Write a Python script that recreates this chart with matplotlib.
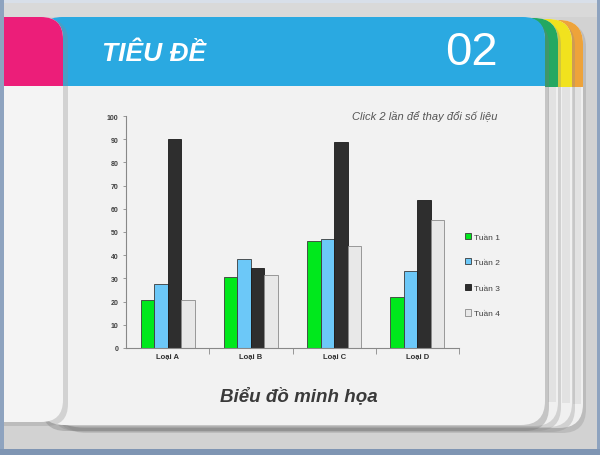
import numpy as np
import matplotlib
matplotlib.use('Agg')
from matplotlib import pyplot as plt
from matplotlib.patches import FancyBboxPatch, Rectangle

### DATA
categories = ['Loại A', 'Loại B', 'Loại C', 'Loại D']
series = ['Tuần 1', 'Tuần 2', 'Tuần 3', 'Tuần 4']
tuan_1 = [20.5, 30.5, 46, 22]
tuan_2 = [27.5, 38.5, 47, 33]
tuan_3 = [90, 34.5, 89, 64]
tuan_4 = [20.5, 31.5, 44, 55]
y_ticks = list(range(0, 101, 10))

bar_colors = ['#00e81c', '#6cc8f8', '#2e2e2e', '#e8e8e8']
edge_colors = ['#3a3a3a', '#3a3a3a', '#1a1a1a', '#8a8a8a']

plt.rcParams['font.family'] = ['Liberation Sans', 'DejaVu Sans']

W, H = 600, 456
fig = plt.figure(figsize=(W / 100, H / 100), dpi=100)

### BACKGROUND (slide decoration, pixel coordinates)
bg = fig.add_axes([0, 0, 1, 1])
bg.set_xlim(0, W)
bg.set_ylim(H, 0)
bg.axis('off')

def rbox(x0, y0, x1, y1, r, color, z, alpha=1.0):
    p = FancyBboxPatch((x0, y0), x1 - x0, y1 - y0, boxstyle=f'round,pad=0,rounding_size={r}',
                       facecolor=color, edgecolor='none', zorder=z, alpha=alpha)
    bg.add_patch(p)
    return p

def rect(x0, y0, x1, y1, color, z, alpha=1.0):
    bg.add_patch(Rectangle((x0, y0), x1 - x0, y1 - y0, facecolor=color, edgecolor='none', zorder=z, alpha=alpha))

# backdrop
rect(0, 0, W, H, '#d2d2d2', 0.5)
rect(0, 0, W, 18, '#d9d9d9', 0.6)

# back cards (orange, yellow, green)
back_cards = [(60, 583, 21, 429, '#eea33a'), (55, 572, 20, 428, '#f1e21e'), (50, 558, 19, 427, '#24a862')]
z = 1
for x0, x1, y0, y1, col in back_cards:
    rbox(x0 + 2, y0 + 3, x1 + 3, y1 + 5, 24, '#8a8a8a', z, alpha=0.3)
    rbox(x0, y0, x1, y1, 24, '#f0f0f0', z + 0.1)
    rbox(x0, y0, x1, 110, 24, col, z + 0.2)
    rect(x0, 88, x1, 112, '#f0f0f0', z + 0.3)
    rect(x1 - 10, 88, x1 - 2, y1 - 24, '#e2e2e2', z + 0.35)
    z += 1

# main card
rbox(42, 22, 549, 432, 24, '#777777', 5, alpha=0.35)
rbox(40, 18, 545, 426, 24, '#f2f2f2', 5.1)
rbox(40, 18, 545, 110, 22, '#2aa9e1', 5.2)
rect(40, 87, 545, 112, '#f2f2f2', 5.3)

# pink card on the left (its left part hides behind the window frame)
rbox(-80, 20, 68, 427, 22, '#8a8a8a', 6, alpha=0.3)
rbox(-80, 18, 63, 423, 22, '#f4f4f4', 6.1)
rbox(-80, 18, 63, 110, 22, '#ec1e79', 6.2)
rect(-80, 87, 63, 112, '#f4f4f4', 6.3)

# window frame on top
rect(0, 0, W, 4, '#d8dfe9', 9)
rect(0, 0, 4, H, '#8ea3bf', 9)
rect(597, 0, W, H, '#8ea3bf', 9)
rect(0, 450, W, H, '#7f95b3', 9)

# header texts
bg.text(102, 54, 'TIÊU ĐỀ', color='white', fontsize=19, fontweight='bold', fontstyle='italic',
        ha='left', va='center', zorder=8)
bg.text(498, 53, '02', color='white', fontsize=34, ha='right', va='center', zorder=8)
bg.text(497, 117, 'Click 2 lần để thay đổi số liệu', color='#555555', fontsize=8, fontstyle='italic',
        ha='right', va='center', zorder=8)
bg.text(299, 396, 'Biểu đồ minh họa', color='#3a3a3a', fontsize=13.5, fontweight='bold', fontstyle='italic',
        ha='center', va='center', zorder=8)

### CHART
ax = fig.add_axes([126 / W, 1 - 349 / H, 333 / W, 232 / H])
ax.set_facecolor('none')
ax.set_zorder(10)

values = [tuan_1, tuan_2, tuan_3, tuan_4]
x = np.arange(len(categories))
bw = 0.162
handles = []
for i, vals in enumerate(values):
    b = ax.bar(x + (i - 1.5) * bw, vals, bw, color=bar_colors[i], edgecolor=edge_colors[i],
               linewidth=0.6, label=series[i])
    handles.append(b)

ax.set_xlim(-0.5, len(categories) - 0.5)
ax.set_ylim(0, 100)
ax.set_yticks(y_ticks)
ax.set_yticklabels([str(t) for t in y_ticks], fontsize=5, fontweight='bold', color='#404040')
ax.tick_params(axis='y', length=2.5, width=0.6, color='#888888', pad=3)

ax.set_xticks(x)
ax.set_xticklabels(categories, fontsize=5.5, fontweight='bold', color='#303030')
ax.set_xticks(np.arange(-0.5, len(categories), 1.0)[1:], minor=True)
ax.tick_params(axis='x', which='major', length=0, pad=3)
ax.tick_params(axis='x', which='minor', length=4, width=0.6, color='#888888')

for s in ['top', 'right']:
    ax.spines[s].set_visible(False)
for s in ['left', 'bottom']:
    ax.spines[s].set_color('#888888')
    ax.spines[s].set_linewidth(0.8)

fig.legend(handles=handles, labels=series, loc='upper left', bbox_to_anchor=(457 / W, 1 - 226 / H),
           frameon=False, fontsize=6, labelcolor='#404040', handlelength=0.8, handleheight=0.8,
           handletextpad=0.3, labelspacing=2.1)

fig.savefig('out.png', dpi=100)
